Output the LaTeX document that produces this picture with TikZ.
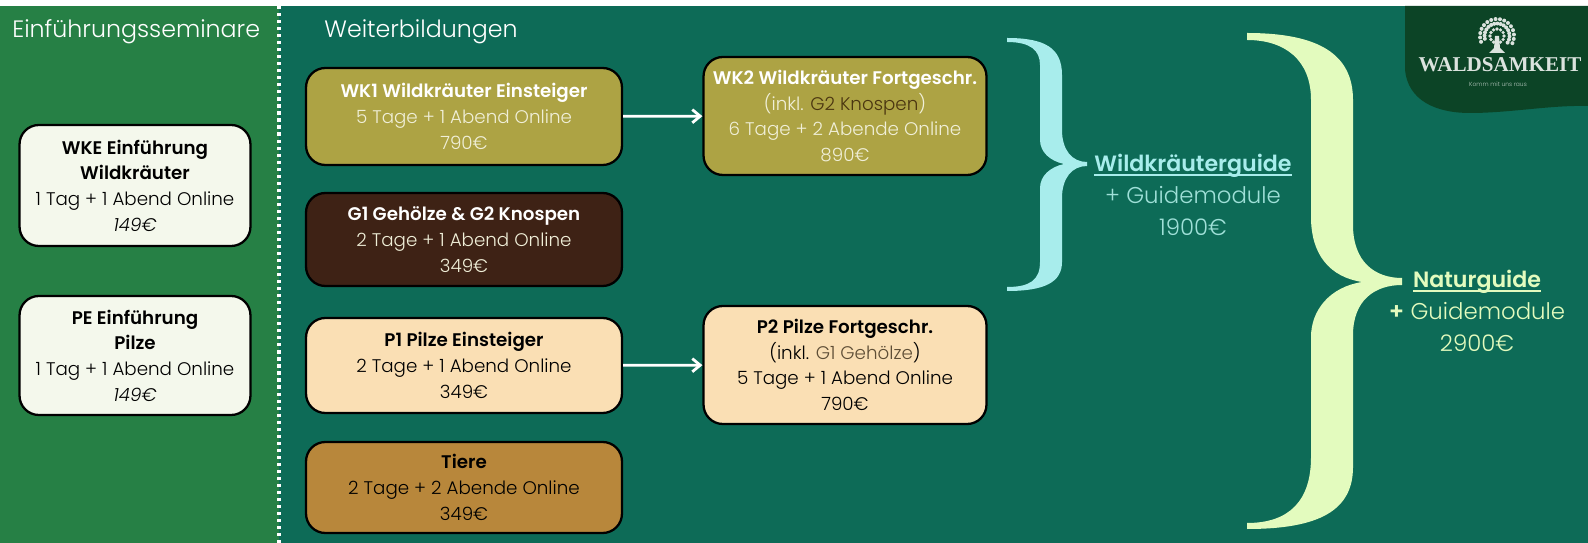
\documentclass[tikz,border=0pt]{standalone}
\usepackage{fontspec}
\setmainfont{Poppins}[UprightFont=* Light, ItalicFont=* Light Italic, BoldFont=* SemiBold]
\newfontfamily\logofont{Liberation Serif}
\usetikzlibrary{arrows.meta}
\definecolor{seminargreen}{HTML}{268045}
\definecolor{weitergreen}{HTML}{0D6B57}
\definecolor{logogreen}{HTML}{0C4426}
\definecolor{paper}{HTML}{F4F8EC}
\definecolor{olive}{HTML}{ADA344}
\definecolor{bark}{HTML}{3E2215}
\definecolor{sand}{HTML}{FADFB4}
\definecolor{ochre}{HTML}{B8873B}
\definecolor{icyblue}{HTML}{A8EDEC}
\definecolor{icytext}{HTML}{9FE0D8}
\definecolor{lime}{HTML}{E3FBBE}
\definecolor{knospe}{HTML}{4A3510}
\definecolor{gehoelz}{HTML}{5E4E36}
\definecolor{lightline}{HTML}{F0EFD8}
\tikzset{
    coursebox/.style={draw=black, line width=1.3pt, rounded corners=11pt, inner sep=0pt,
        align=center, font=\fontsize{10.4}{14.6}\selectfont},
    introbox/.style={coursebox, fill=paper, text=black, minimum width=4.62cm},
    firstbox/.style={coursebox, minimum width=6.32cm},
    nextbox/.style={coursebox, minimum width=5.66cm},
    steparrow/.style={white, line width=1.6pt, -{Straight Barb[length=4.5pt, width=7.5pt]}},
    headline/.style={white, anchor=west, inner sep=0pt, font=\fontsize{13.5}{17}\selectfont},
    guidetext/.style={align=center, font=\fontsize{13}{18}\selectfont},
    logoink/.style={white!85!logogreen},
}
\newsavebox{\guidebox}
\newcommand{\guidetitle}[1]{\sbox{\guidebox}{\fontsize{12.6}{18}\selectfont\textbf{#1}}%
    \rlap{\rule[-2.2pt]{\wd\guidebox}{.8pt}}\usebox{\guidebox}}
\begin{document}
\begin{tikzpicture}[x=.02cm, y=-.02cm]
    \useasboundingbox (0, 0) rectangle (1588, 543);
    \fill[seminargreen] (0, 6) rectangle (279, 543);
    \fill[weitergreen] (279, 6) rectangle (1588, 543);
    \coordinate (dividertop) at (279, 6);
    \coordinate (dividerbottom) at (279, 543);
    \draw[white, line width=1.8pt, dash pattern=on 1.8pt off 2.2pt] (dividertop) -- (dividerbottom);

    \node[headline] (einfuehrung) at (12, 32) {Einführungsseminare};
    \node[headline] (weiter) at (324, 32) {Weiterbildungen};

    % left column
    \node[introbox, minimum height=2.42cm] (wke) at (135, 185.5)
        {\textbf{WKE Einführung}\\\textbf{Wildkräuter}\\1 Tag + 1 Abend Online\\\textit{149€}};
    \node[introbox, minimum height=2.38cm] (pe) at (135, 355.5)
        {\textbf{PE Einführung}\\\textbf{Pilze}\\1 Tag + 1 Abend Online\\\textit{149€}};

    % middle columns
    \node[firstbox, fill=olive, text=lightline, minimum height=1.94cm] (wk1) at (464, 116.5)
        {\textbf{\textcolor{white}{WK1 Wildkräuter Einsteiger}}\\5 Tage + 1 Abend Online\\790€};
    \node[firstbox, fill=bark, text=lightline, minimum height=1.86cm] (g1) at (464, 239.5)
        {\textbf{\textcolor{white}{G1 Gehölze \& G2 Knospen}}\\2 Tage + 1 Abend Online\\349€};
    \node[firstbox, fill=sand, text=black, minimum height=1.9cm] (p1) at (464, 365.5)
        {\textbf{P1 Pilze Einsteiger}\\2 Tage + 1 Abend Online\\349€};
    \node[firstbox, fill=ochre, text=black, minimum height=1.82cm] (tiere) at (464, 487.5)
        {\textbf{Tiere}\\2 Tage + 2 Abende Online\\349€};
    \node[nextbox, fill=olive, text=lightline, minimum height=2.36cm] (wk2) at (845, 116)
        {\textbf{\textcolor{white}{WK2 Wildkräuter Fortgeschr.}}\\(inkl. \textcolor{knospe}{G2 Knospen})\\6 Tage + 2 Abende Online\\890€};
    \node[nextbox, fill=sand, text=black, minimum height=2.36cm] (p2) at (845, 365)
        {\textbf{P2 Pilze Fortgeschr.}\\(inkl. \textcolor{gehoelz}{G1 Gehölze})\\5 Tage + 1 Abend Online\\790€};
    \draw[steparrow] (wk1) -- (wk2);
    \draw[steparrow] (p1) -- (p2);

    % braces
    \fill[icyblue] (1007, 38) .. controls (1045, 38) and (1062, 48) .. (1062, 75)
        -- (1062, 130) .. controls (1062, 150) and (1072, 162) .. (1087, 162)
        -- (1087, 166) .. controls (1072, 166) and (1062, 178) .. (1062, 198)
        -- (1062, 262) .. controls (1062, 282) and (1045, 291) .. (1007, 291)
        -- (1007, 287) .. controls (1030, 287) and (1040, 280) .. (1040, 262)
        -- (1040, 188) .. controls (1040, 176) and (1050, 167) .. (1064, 164)
        .. controls (1050, 161) and (1040, 152) .. (1040, 140)
        -- (1040, 65) .. controls (1040, 50) and (1030, 42) .. (1007, 42) -- cycle;
    \fill[lime] (1247, 33) .. controls (1320, 33) and (1353, 55) .. (1353, 100)
        -- (1353, 225) .. controls (1353, 262) and (1375, 278) .. (1402, 278)
        -- (1402, 285) .. controls (1375, 285) and (1353, 300) .. (1353, 335)
        -- (1353, 467) .. controls (1353, 510) and (1320, 529) .. (1247, 529)
        -- (1247, 523) .. controls (1290, 523) and (1311, 500) .. (1311, 457)
        -- (1311, 337) .. controls (1311, 310) and (1330, 287) .. (1362, 282)
        .. controls (1330, 277) and (1311, 255) .. (1311, 217)
        -- (1311, 100) .. controls (1311, 60) and (1285, 40) .. (1247, 40) -- cycle;

    \node[guidetext, text=icytext] (wildguide) at (1193, 195)
        {\textcolor{icyblue}{\guidetitle{Wildkräuterguide}}\\+ Guidemodule\\1900€};
    \node[guidetext, text=lime] (naturguide) at (1477, 311)
        {\guidetitle{Naturguide}\\\textbf{+} Guidemodule\\2900€};

    % logo
    \fill[logogreen] (1405, 6) -- (1405, 70) .. controls (1408, 100) and (1435, 113) .. (1470, 113)
        .. controls (1510, 113) and (1550, 105) .. (1588, 106) -- (1588, 6) -- cycle;
    \foreach \a in {-20, -5, ..., 205} {
        \fill[logoink] (1497, 36) ++(\a:-17) circle (2);
        \fill[logoink] (1497, 36) ++(\a+7:-12.5) circle (2);
    }
    \foreach \a in {0, 30, ..., 330} \fill[logoink] (1497, 36) ++(\a:-7) circle (1.8);
    \fill[logoink] (1495, 36) -- (1499, 36) -- (1500, 48) -- (1505, 53)
        -- (1489, 53) -- (1494, 48) -- cycle;
    \node[logoink, font=\logofont\bfseries\fontsize{12}{12}\selectfont] (logoname) at (1500, 65)
        {WALDSAMKEIT};
    \node[white!70!logogreen, font=\fontsize{3.4}{4}\selectfont] (logoclaim) at (1498, 84)
        {Komm mit uns raus};
\end{tikzpicture}
\end{document}
